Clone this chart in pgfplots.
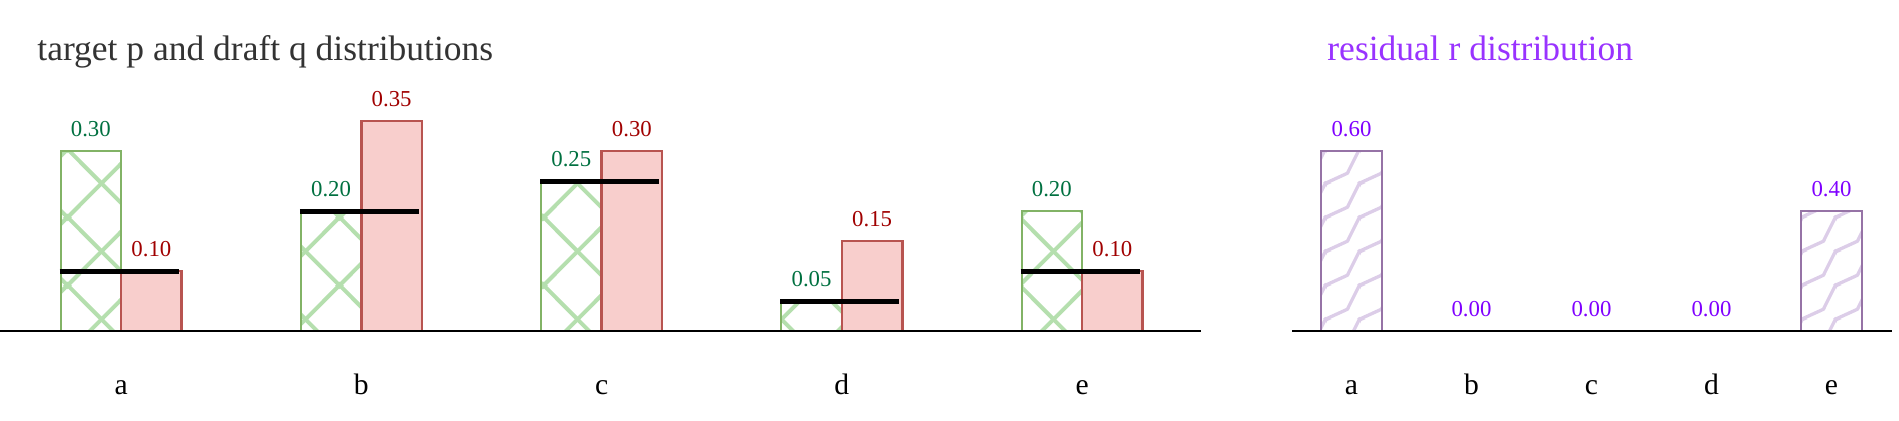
\documentclass[border=0pt]{standalone}
\usepackage{fontspec}
\setmainfont{Liberation Serif}
\usepackage{pgfplots}
\pgfplotsset{compat=1.18}
\usetikzlibrary{patterns.meta}

\definecolor{greenedge}{HTML}{82B366}
\definecolor{greenhatch}{HTML}{B5DFAE}
\definecolor{greenlabel}{HTML}{007040}
\definecolor{redfill}{HTML}{F8CECC}
\definecolor{rededge}{HTML}{B85450}
\definecolor{redlabel}{HTML}{A00000}
\definecolor{purpleedge}{HTML}{9673A6}
\definecolor{purplehatch}{HTML}{DCCDE8}
\definecolor{purplelabel}{HTML}{7F00FF}
\definecolor{titlepurple}{HTML}{9933FF}
\definecolor{titlegray}{HTML}{333333}

\newcommand\titlefont{\fontsize{17.75}{20}\selectfont}
\newcommand\catfont{\fontsize{14.8}{17}\selectfont}
\newcommand\valfont{\fontsize{11.4}{13}\selectfont}

% big cross-hatch for the target bars
\tikzdeclarepattern{
  name=wideXhatch,
  type=uncolored,
  bounding box={(0pt,0pt) and (34pt,34pt)},
  tile size={(34pt,34pt)},
  code={
    \foreach \k in {-34,0,34} {
      \draw[line width=2pt] ({\k pt-5pt},-5pt) -- ++(44pt,44pt);
      \draw[line width=2pt] ({\k pt-5pt},39pt) -- ++(44pt,-44pt);
    }
  }
}

% zigzag fill for the residual bars
\tikzdeclarepattern{
  name=zigzagfill,
  type=uncolored,
  bounding box={(0pt,0pt) and (17pt,17pt)},
  tile size={(17pt,17pt)},
  code={
    \foreach \k in {-34,-17,0,17,34} {
      \draw[line width=1.7pt, line join=round] ({\k pt-17pt},-17pt)
        -- ++(11pt,5pt) -- ++(6pt,12pt)
        -- ++(11pt,5pt) -- ++(6pt,12pt)
        -- ++(11pt,5pt) -- ++(6pt,12pt)
        -- ++(11pt,5pt) -- ++(6pt,12pt);
    }
  }
}

\pgfplotsset{
  distaxis/.style={
    anchor=south west, scale only axis, height=135pt, ymin=0,
    axis x line=bottom, axis y line=none,
    axis line style={-, line width=1.4pt, black},
    xtick={0,1,2,3,4}, xticklabels={a,b,c,d,e},
    xtick style={draw=none},
    xticklabel style={anchor=base, yshift=-29.5pt, font=\catfont, text=black},
    clip=false, axis on top,
  },
  vallabels/.style={
    nodes near coords,
    every node near coord/.append style={anchor=base, yshift=7.5pt, font=\valfont, text=#1},
  },
}

\begin{document}
\begin{tikzpicture}
\path[use as bounding box] (0pt,0pt) rectangle (949.5pt,210pt);

\node[anchor=base west, inner sep=0pt, text=titlegray, font=\titlefont] at (18.5pt,180pt) {target p and draft q distributions};
\node[anchor=base west, inner sep=0pt, text=titlepurple, font=\titlefont] at (663.5pt,180pt) {residual r distribution};

\begin{axis}[
  distaxis,
  at={(0pt,44.5pt)}, width=600.5pt,
  xmin=-0.504, xmax=4.495, ymax=0.45,
  /pgf/number format/.cd, fixed, fixed zerofill, precision=2, assume math mode=true,
]
% target p (bars sit left of each category)
\addplot[ybar, bar width=0.252, bar shift=0, draw=greenedge, line width=1pt,
  pattern=wideXhatch, pattern color=greenhatch, vallabels=greenlabel]
  coordinates {(-0.126,0.30) (0.874,0.20) (1.874,0.25) (2.874,0.05) (3.874,0.20)};
% draft q (bars sit right of each category)
\addplot[ybar, bar width=0.252, bar shift=0, draw=rededge, fill=redfill, line width=1.2pt,
  vallabels=redlabel]
  coordinates {(0.126,0.10) (1.126,0.35) (2.126,0.30) (3.126,0.15) (4.126,0.10)};
% min(p, q)
\addplot[black, line width=2.5pt, unbounded coords=jump]
  coordinates {(-0.256,0.10) (0.24,0.10) (0.5,nan)
               (0.744,0.20) (1.24,0.20) (1.5,nan)
               (1.744,0.25) (2.24,0.25) (2.5,nan)
               (2.744,0.05) (3.24,0.05) (3.5,nan)
               (3.744,0.10) (4.24,0.10)};
\end{axis}

\begin{axis}[
  distaxis,
  at={(646pt,44.5pt)}, width=300pt,
  xmin=-0.496, xmax=4.504, ymax=0.9,
  /pgf/number format/.cd, fixed, fixed zerofill, precision=2, assume math mode=true,
]
% residual r
\addplot[ybar, bar width=0.508, bar shift=0, draw=purpleedge, line width=1.2pt,
  pattern=zigzagfill, pattern color=purplehatch, vallabels=purplelabel]
  coordinates {(0,0.60) (1,0) (2,0) (3,0) (4,0.40)};
\end{axis}
\end{tikzpicture}
\end{document}
